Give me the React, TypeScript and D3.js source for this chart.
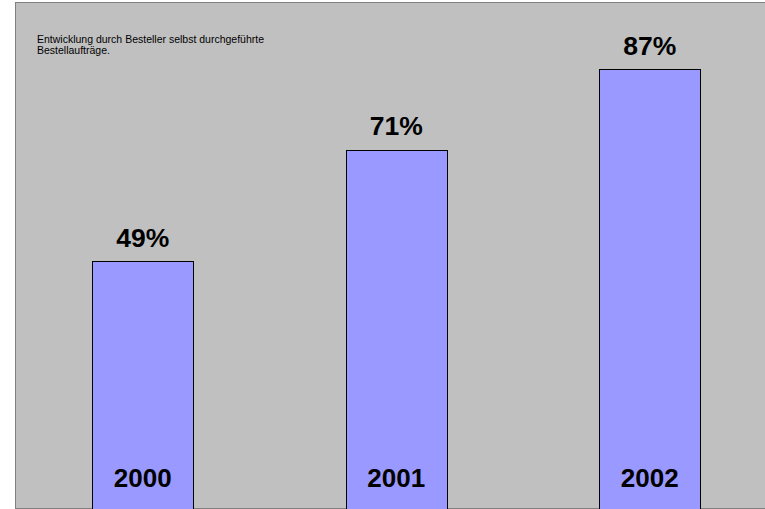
import { useEffect, useRef } from 'react';
import { scaleBand, scaleLinear, select } from 'd3';

const years = ['2000', '2001', '2002'];
const shares = [49, 71, 87];
const titleLines = [
  'Entwicklung durch Besteller selbst durchgeführte',
  'Bestellaufträge.',
];

export default function App() {
  const svgRef = useRef<SVGSVGElement>(null);

  useEffect(() => {
    if (!svgRef.current) return;
    const svg = select(svgRef.current);
    svg.selectAll('*').remove();

    const width = 765;
    const height = 509;
    const font = 'Liberation Sans, Arial, sans-serif';

    // chart area background
    svg.append('rect')
      .attr('x', 15.5)
      .attr('y', 2.5)
      .attr('width', width)
      .attr('height', height - 3)
      .attr('fill', '#c0c0c0')
      .attr('stroke', '#808080')
      .attr('stroke-width', 1);

    const x = scaleBand<string>()
      .domain(years)
      .range([16, 776.5])
      .paddingInner(0.6)
      .paddingOuter(0.3);

    const y = scaleLinear().domain([0, 100]).range([508.5, 3.5]);

    const data = years.map((year, i) => ({ year, value: shares[i] }));

    svg.selectAll('rect.bar')
      .data(data)
      .enter()
      .append('rect')
      .attr('class', 'bar')
      .attr('x', (d) => Math.round(x(d.year)!) + 0.5)
      .attr('y', (d) => Math.round(y(d.value)) + 0.5)
      .attr('width', Math.round(x.bandwidth()))
      .attr('height', (d) => y(0) - y(d.value) + 2)
      .attr('fill', '#9999ff')
      .attr('stroke', '#000')
      .attr('stroke-width', 1);

    // value labels
    svg.selectAll('text.value')
      .data(data)
      .enter()
      .append('text')
      .attr('class', 'value')
      .attr('x', (d) => x(d.year)! + x.bandwidth() / 2)
      .attr('y', (d) => y(d.value) - 14.5)
      .attr('text-anchor', 'middle')
      .attr('font-family', font)
      .attr('font-weight', 'bold')
      .attr('font-size', 26.5)
      .attr('fill', '#000')
      .text((d) => `${d.value}%`);

    // year labels inside bars
    svg.selectAll('text.year')
      .data(data)
      .enter()
      .append('text')
      .attr('class', 'year')
      .attr('x', (d) => x(d.year)! + x.bandwidth() / 2)
      .attr('y', 487)
      .attr('text-anchor', 'middle')
      .attr('font-family', font)
      .attr('font-weight', 'bold')
      .attr('font-size', 26)
      .attr('fill', '#000')
      .text((d) => d.year);

    // title
    const title = svg.append('text')
      .attr('font-family', font)
      .attr('font-size', 10.5)
      .attr('fill', '#000');
    titleLines.forEach((line, i) => {
      title.append('tspan')
        .attr('x', 37)
        .attr('y', 42.5 + i * 11.5)
        .text(line);
    });
  }, []);

  return (
    <svg
      ref={svgRef}
      width={765}
      height={509}
      style={{ position: 'absolute', left: 0, top: 0, background: '#fff' }}
    />
  );
}
